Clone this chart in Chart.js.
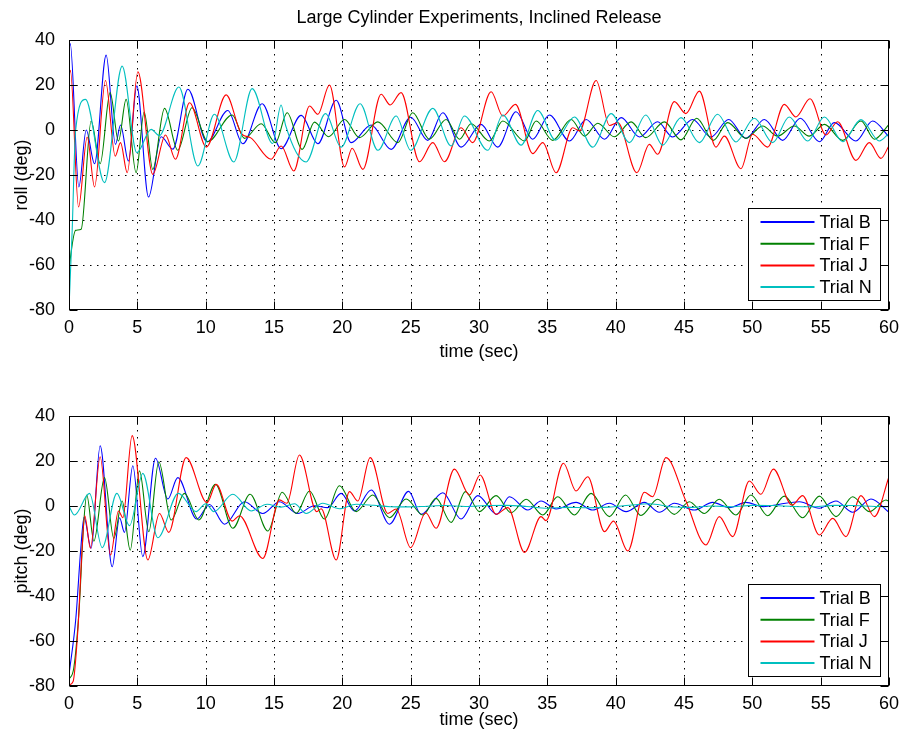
<!DOCTYPE html>
<html><head><meta charset="utf-8">
<script src="https://cdn.jsdelivr.net/npm/chart.js@4/dist/chart.umd.min.js"></script>
<style>
html,body{margin:0;padding:0;background:#fff;}
#wrap{position:relative;width:904px;height:736px;background:#fff;}
canvas{position:absolute;left:0;}
</style></head><body>
<div id="wrap">
<canvas id="c1" width="904" height="368" style="top:0px"></canvas>
<canvas id="c2" width="904" height="368" style="top:368px"></canvas>
</div>
<script>
const seriesLabels = ['Trial B', 'Trial F', 'Trial J', 'Trial N'];
const seriesColors = ['#0000ff', '#008000', '#ff0000', '#00bfbf'];
const xTicks = [0, 5, 10, 15, 20, 25, 30, 35, 40, 45, 50, 55, 60];
const yTicks = [-80, -60, -40, -20, 0, 20, 40];

// ---- roll (top panel) ----
const rollB_t = [0, 0.09, 0.72, 1.26, 1.87, 2.72, 3.4, 3.77, 4.35, 4.96, 5.82, 6.74, 7.6, 8.7, 10.1, 11.62, 12.72, 14.13, 15.52, 16.99, 18.21, 19.55, 20.64, 22.11, 23.57, 25.0, 26.25, 27.35, 28.69, 30.15, 31.37, 32.71, 33.93, 35.15, 36.62, 37.84, 39.18, 40.4, 41.74, 43.07, 44.17, 45.63, 46.97, 48.27, 49.53, 50.88, 52.22, 53.51, 54.9, 56.0, 57.58, 58.8, 60];
const rollB_v = [36, 38.4, -25.3, 0, -15, 33.3, -6.4, 2.2, -13.8, 19.6, -29.8, -3, -8.5, 18.1, -5.3, 8.7, -6.1, 11.7, -8.3, 6.5, -6.1, 13.2, -5.6, 2.2, -8.6, 5.7, -4.6, 7.7, -7.6, 2.5, -7.6, 8.1, -4.1, 6.7, -4.9, 4.7, -4.1, 5.5, -3.1, 3.7, -3.1, 4.7, -3.1, 4.7, -3.7, 4.7, -4.6, 5.2, -5.2, 3.3, -4.9, 4.0, -3.0];

const rollF_t = [0, 0.04, 0.48, 0.89, 1.62, 2.28, 3.01, 3.62, 4.18, 4.91, 5.5, 6.13, 6.99, 7.96, 9.0, 10.16, 11.94, 12.84, 14.06, 15.11, 15.96, 17.06, 17.96, 19.0, 20.16, 21.25, 22.6, 24.06, 25.15, 26.37, 27.59, 28.57, 29.42, 30.76, 31.74, 33.33, 34.18, 35.4, 36.74, 37.72, 38.69, 39.9, 41.13, 42.2, 43.56, 44.78, 45.93, 47.14, 48.2, 49.53, 50.75, 51.85, 53.07, 54.17, 55.27, 56.61, 57.95, 58.93, 60];
const rollF_v = [-62, -59.7, -44.6, -44.1, 4.0, -15, 16.6, -4.9, 13.6, -19, 8, -17.5, 9.6, -9, 9.9, -5.2, 6.7, -3.7, 2.8, -5.6, 7.7, -8.6, 3.5, -3, 4.7, -3.4, 3.6, -5.6, 7.7, -4.1, 4.7, -4.1, 2.8, -4.9, 4, -4.9, 4, -4.6, 4.7, -2.7, 3, -3, 3.6, -3.4, 3.6, -4.4, 5.2, -4.6, 3.3, -3.7, 1.8, -2.7, 1.8, -2.7, 2.5, -4.6, 4, -4.1, 2.5];

const rollJ_t = [0, 0.1, 0.7, 1.33, 1.87, 2.67, 3.38, 3.77, 4.26, 5.04, 6.13, 7.06, 7.79, 8.82, 10.05, 11.5, 12.6, 13.3, 14.79, 15.52, 16.45, 17.6, 18.21, 19.06, 20.16, 20.72, 21.5, 22.84, 23.5, 24.3, 25.64, 26.62, 27.47, 28.69, 29.54, 30.89, 31.74, 32.67, 33.93, 34.67, 35.64, 36.86, 37.35, 38.57, 39.55, 40.15, 41.55, 42.46, 43.07, 44.29, 45.14, 46.12, 47.34, 47.95, 49.17, 50.02, 51.12, 52.34, 53.19, 54.22, 55.39, 56.24, 57.58, 58.56, 59.41, 60];
const rollJ_v = [24, 26.5, -34.2, -3.1, -25.3, 22, -11.6, -5.6, -19, 25.9, -19.7, -2.2, -13, 12.1, -7.6, 15.6, -1.5, -3.5, -13, -7.1, -18.2, 10.7, 7, 20, -16.4, -8.1, -17.5, 15.9, 11.1, 16.6, -14.1, -5.6, -14.1, 1, -5.6, 17, 6.2, 11.4, -10.5, -5.6, -19, 1, -0.4, 22, 2.0, 3.3, -19, -6.4, -10.8, 12.6, 7.3, 17.3, -7.6, -2.7, -17.2, -1.9, -7.6, 11.4, 5.8, 13.9, -2.2, 3.7, -13.5, -5.6, -12.6, -7];

const rollN_t = [0, 0.23, 0.48, 1.21, 2.6, 3.89, 4.96, 6.01, 6.6, 8.04, 9.43, 10.64, 12.06, 13.4, 14.9, 15.52, 15.85, 17.35, 18.77, 19.91, 21.3, 22.6, 23.94, 25.0, 26.62, 27.96, 28.93, 30.64, 31.74, 33.08, 34.3, 35.6, 36.98, 38.32, 39.67, 41.01, 42.2, 43.44, 44.78, 46.12, 47.46, 48.8, 50.15, 51.49, 52.7, 54.05, 55.27, 56.61, 57.95, 59.29, 60];
const rollN_v = [-79, -45, -0.4, 13.6, -23.4, 28.4, -10.1, 0.3, -2.5, 19.1, -16, 7, -14.2, 18.4, -6, 11.1, 2, -14.2, 7.3, -7.6, 11.7, -9, 6.2, -9, 9.6, -7.1, 6.2, -9, 6.7, -6.7, 8.7, -4.5, 5.8, -7.6, 7.3, -5.6, 6.7, -6.7, 5.5, -5.6, 7, -5.3, 5.2, -5.6, 5.8, -4.9, 5.8, -5.2, 4.6, -4.9, -1.5];

// ---- pitch (bottom panel) ----
const pitchB_t = [0, 0.5, 0.85, 1.1, 1.62, 2.28, 3.16, 3.7, 4.06, 4.67, 5.4, 6.33, 7.23, 7.96, 9.35, 10.28, 11.38, 12.84, 14.18, 15.4, 16.74, 17.96, 18.94, 19.91, 20.89, 22.11, 23.45, 24.85, 25.76, 27.35, 28.69, 29.91, 31.3, 32.23, 33.57, 34.54, 35.64, 37.1, 38.32, 39.54, 40.76, 42.1, 43.19, 44.29, 45.75, 47.1, 48.32, 49.53, 50.8, 52.0, 53.44, 54.9, 56.12, 57.34, 58.68, 60];
const pitchB_v = [-75, -50, -20, -5, -18.8, 26.8, -27, -5.2, -11.7, 17.9, -22.5, 21.2, 3.1, 12.6, -5.8, 0.7, -8.1, 1.9, -3.3, 1.9, -3.3, 0.1, -0.7, 5.6, -2.2, 7.1, -8.1, 6.5, -3.7, 5.9, -5.8, 4.6, -3.7, 4.1, -1.8, 2.2, -1.3, 1.6, -1.8, 1.2, -2.5, 1.6, -2.8, 1.2, -1.8, 1.6, -0.7, 1.6, -0.3, 0.8, 1.9, -1, 2.2, -2.8, 3.1, -2.8];

const pitchF_t = [0, 0.35, 0.75, 1.05, 1.3, 1.82, 2.6, 3.28, 3.89, 4.48, 5.16, 5.84, 6.57, 7.48, 8.45, 9.5, 10.72, 11.99, 13.25, 14.55, 15.6, 16.62, 17.6, 18.69, 19.79, 21.01, 22.23, 23.45, 24.67, 25.89, 26.86, 27.96, 29.01, 30.03, 31.25, 32.35, 33.45, 34.67, 35.76, 36.98, 38.2, 39.54, 40.72, 41.85, 43.07, 44.29, 45.39, 46.49, 47.58, 48.8, 49.9, 51.12, 52.34, 53.68, 54.9, 56.12, 57.34, 58.56, 59.78, 60];
const pitchF_v = [-77, -72, -45, -10, 4.9, -15.6, 12.6, -14.4, 2.2, -19.6, 15.6, -11.4, 19.7, -6.2, 5.6, -6.2, 9.6, -9.9, 5.2, -11.1, 6.1, -3.3, 6.7, -5.8, 9, -2.5, 4.9, -5.2, 3.1, -4, 3.4, -7.3, 6.4, -2.5, 4.6, -3, 3, -4, 4.1, -4, 5.6, -4.7, 4.9, -4.2, 3, -3.7, 1.9, -3.3, 3, -4, 4.9, -4.3, 4.4, -5.2, 4.4, -4.7, 4.1, -2.5, 2.7, 2.0];

const pitchJ_t = [0, 0.3, 0.65, 0.95, 1.15, 1.57, 2.28, 3.04, 3.62, 3.94, 4.62, 5.77, 6.62, 7.3, 8.57, 10.1, 10.77, 11.94, 12.47, 14.18, 15.4, 15.94, 16.86, 18.13, 18.45, 19.55, 20.52, 21.13, 22.04, 23.33, 23.94, 25.0, 26.1, 26.86, 28.2, 29.3, 30.08, 31.25, 32.11, 33.33, 34.54, 34.9, 36.18, 37.1, 37.96, 39.18, 39.84, 40.89, 42.1, 42.7, 43.68, 45.14, 46.61, 47.58, 48.56, 49.78, 50.63, 51.54, 52.9, 53.68, 54.9, 55.88, 56.85, 57.95, 58.93, 60];
const pitchJ_v = [-79.5, -78, -55, -20, -4.3, -18.8, 21.9, -21.8, -2.2, -5.2, 31.3, -24, -3.3, -11.7, 21.5, 1.5, 9.6, -6.7, -4.3, -23.3, 2.7, 1.2, 22.7, -2.5, -1.2, -24, 6.4, 2.2, 21.5, -3.3, -1.3, -18.5, -3, -9.9, 16.4, 4.9, 13.8, -3.7, -0.7, -20.6, -4.7, -6.5, 19, 6.7, 13, -11.4, -6.7, -20, 6.1, 4.1, 21.5, 2.2, -17.3, -4.7, -13.6, 11.1, 5.2, 16.4, 0.4, 4.6, -12.9, -5.5, -13.6, 4.6, -4.7, 13];

const pitchN_t = [0, 0.4, 1.5, 2.43, 3.5, 4.43, 5.4, 6.5, 8.0, 9.3, 10.0, 10.6, 11.99, 13.33, 14.5, 15.5, 16.5, 17.35, 18.57, 19.79, 21.01, 22.3, 23.5, 24.8, 26.0, 27.5, 29.0, 30.5, 32.0, 33.5, 35.0, 36.5, 38.0, 39.5, 41.0, 42.5, 44.0, 45.5, 47.0, 48.5, 50.0, 51.5, 53.0, 54.5, 56.0, 57.5, 59.0, 60];
const pitchN_v = [0, -4, 5.6, -18.5, 5.6, -8.7, 14.5, -14.1, 5.6, -2.5, 1.0, -2.5, 5.2, -2.2, 0.8, -0.5, 1.0, -3.3, 1.2, -1.2, 0.8, 0.3, -0.3, -0.4, -0.2, 0.2, -0.2, 0.2, 0.3, -0.2, -1.0, -0.6, -0.8, -0.5, 0.3, 1.0, -0.3, -0.6, 0, -0.3, 0.3, 0.2, -0.2, -0.3, 0.3, 0.2, -0.2, -0.3];

const FONT = "'Liberation Sans', Arial, Helvetica, sans-serif";
const FS = 18;

function pts(t, v) { return t.map((x, i) => ({ x: x, y: v[i] })); }

const matlabAxes = {
  id: 'matlabAxes',
  beforeDatasetsDraw(chart) {
    const { ctx, chartArea: a, scales } = chart;
    const x = scales.x, y = scales.y;
    ctx.save();
    ctx.strokeStyle = '#000';
    ctx.lineWidth = 1;
    ctx.setLineDash([1.5, 5.5]);
    ctx.beginPath();
    xTicks.forEach(v => {
      const px = Math.round(x.getPixelForValue(v)) + 0.5;
      if (px <= a.left + 2 || px >= a.right - 2) return;
      ctx.moveTo(px, a.top); ctx.lineTo(px, a.bottom);
    });
    yTicks.forEach(v => {
      const py = Math.round(y.getPixelForValue(v)) + 0.5;
      if (py <= a.top + 2 || py >= a.bottom - 2) return;
      ctx.moveTo(a.left, py); ctx.lineTo(a.right, py);
    });
    ctx.stroke();
    ctx.restore();
  },
  afterDatasetsDraw(chart) {
    const { ctx, chartArea: a, scales } = chart;
    const x = scales.x, y = scales.y;
    const L = Math.round(a.left) + 0.5, R = Math.round(a.right) - 0.5;
    const T = Math.round(a.top) + 0.5, B = Math.round(a.bottom) - 0.5;
    ctx.save();
    ctx.strokeStyle = '#000';
    ctx.lineWidth = 1;
    ctx.setLineDash([]);
    ctx.beginPath();
    const tl = 8;
    xTicks.forEach(v => {
      const px = Math.round(x.getPixelForValue(v)) + 0.5;
      ctx.moveTo(px, B); ctx.lineTo(px, B - tl);
      ctx.moveTo(px, T); ctx.lineTo(px, T + tl);
    });
    yTicks.forEach(v => {
      const py = Math.round(y.getPixelForValue(v)) + 0.5;
      ctx.moveTo(L, py); ctx.lineTo(L + tl, py);
      ctx.moveTo(R, py); ctx.lineTo(R - tl, py);
    });
    ctx.stroke();
    ctx.strokeRect(L, T, R - L, B - T);

    // legend (south-east, inside axes)
    const bw = 132, bh = 92;
    const bx = Math.round(a.right - 9 - bw) + 0.5;
    const by = Math.round(a.bottom - 10.5 - bh) + 0.5;
    ctx.fillStyle = '#fff';
    ctx.fillRect(bx, by, bw, bh);
    ctx.strokeStyle = '#000';
    ctx.strokeRect(bx, by, bw, bh);
    ctx.font = FS + 'px ' + FONT;
    ctx.textBaseline = 'middle';
    ctx.textAlign = 'left';
    chart.data.datasets.forEach((ds, i) => {
      const cy = by + 13.5 + i * 21.7;
      ctx.strokeStyle = ds.borderColor;
      ctx.lineWidth = 2;
      ctx.beginPath();
      ctx.moveTo(bx + 12, cy); ctx.lineTo(bx + 66, cy);
      ctx.stroke();
      ctx.fillStyle = '#000';
      ctx.fillText(ds.label, bx + 71, cy + 1);
    });
    ctx.restore();
  }
};

function makeChart(id, yTitle, tArrs, vArrs, withTitle, xAxisH) {
  const datasets = tArrs.map((t, i) => ({
    label: seriesLabels[i],
    data: pts(t, vArrs[i]),
    borderColor: seriesColors[i],
    backgroundColor: seriesColors[i],
    borderWidth: 1.1,
    pointRadius: 0,
    fill: false,
    cubicInterpolationMode: 'monotone',
    order: 4 - i
  }));
  return new Chart(document.getElementById(id), {
    type: 'line',
    data: { datasets },
    plugins: [matlabAxes],
    options: {
      responsive: false,
      animation: false,
      devicePixelRatio: 1,
      layout: { padding: { left: 0, right: 15, top: withTitle ? 0 : 48, bottom: 0 } },
      plugins: {
        legend: { display: false },
        tooltip: { enabled: false },
        title: {
          display: withTitle,
          fullSize: false,
          text: 'Large Cylinder Experiments, Inclined Release',
          color: '#000',
          font: { family: FONT, size: FS, weight: 'normal' },
          padding: { top: 7, bottom: 11.4 }
        }
      },
      scales: {
        x: {
          type: 'linear', min: 0, max: 60,
          afterBuildTicks: s => { s.ticks = xTicks.map(v => ({ value: v })); },
          ticks: { color: '#000', font: { family: FONT, size: FS }, padding: -1, maxRotation: 0, autoSkip: false },
          grid: { display: false },
          border: { display: false },
          title: { display: true, text: 'time (sec)', color: '#000', font: { family: FONT, size: FS }, padding: { top: 0, bottom: 5 } },
          afterFit: s => { s.height = xAxisH; }
        },
        y: {
          type: 'linear', min: -80, max: 40,
          afterBuildTicks: s => { s.ticks = yTicks.map(v => ({ value: v })); },
          ticks: { color: '#000', font: { family: FONT, size: FS }, padding: 6, autoSkip: false },
          grid: { display: false },
          border: { display: false },
          title: { display: true, text: yTitle, color: '#000', font: { family: FONT, size: FS }, padding: { top: 11, bottom: 0 } },
          afterFit: s => { s.width = 69; }
        }
      }
    }
  });
}

makeChart('c1', 'roll (deg)', [rollB_t, rollF_t, rollJ_t, rollN_t], [rollB_v, rollF_v, rollJ_v, rollN_v], true, 58);
makeChart('c2', 'pitch (deg)', [pitchB_t, pitchF_t, pitchJ_t, pitchN_t], [pitchB_v, pitchF_v, pitchJ_v, pitchN_v], false, 50);
</script>
</body></html>
